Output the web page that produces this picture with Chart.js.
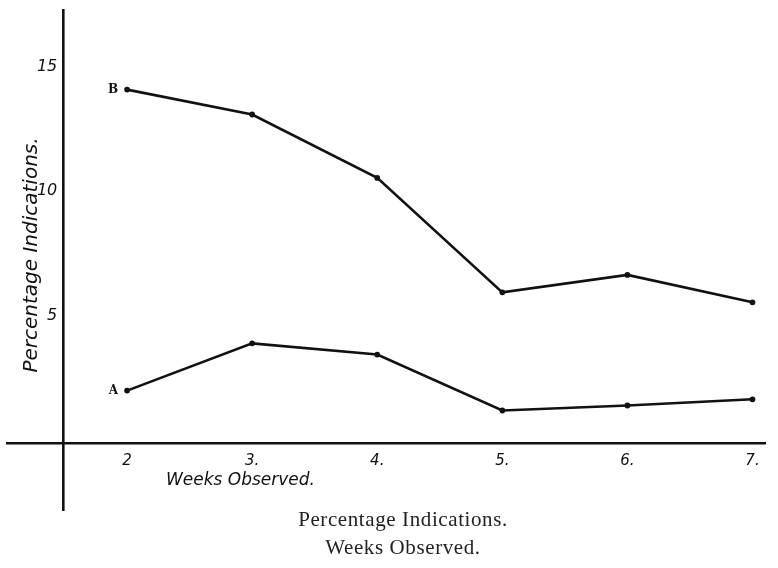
<!DOCTYPE html>
<html>
<head>
<meta charset="utf-8">
<script src="https://cdn.jsdelivr.net/npm/chart.js@4.4.0/dist/chart.umd.min.js"></script>
<style>
  html, body { margin: 0; padding: 0; background: #fff; }
  #wrap { position: relative; width: 778px; height: 568px; }
  #chart { position: absolute; left: 0; top: 0; }
  .caption { position: absolute; left: 253px; width: 300px; text-align: center;
             font-family: "Liberation Serif", serif; font-size: 21px; letter-spacing: 0.6px; color: #222; }
</style>
</head>
<body>
<div id="wrap">
  <canvas id="chart" width="778" height="568"></canvas>
  <div class="caption" style="top:507px">Percentage Indications.</div>
  <div class="caption" style="top:535px">Weeks Observed.</div>
</div>
<script>
// Dữ liệu
const weeks = [2, 3, 4, 5, 6, 7];
const weekLabels = ['2', '3.', '4.', '5.', '6.', '7.'];
const seriesB = [14.2, 13.2, 10.65, 6.05, 6.75, 5.65];
const seriesA = [2.1, 4.0, 3.55, 1.3, 1.5, 1.75];
const yTicks = [5, 10, 15];
const seriesNames = ['B', 'A'];
const yAxisAt = 1.49;   // vị trí trục tung trên thang x

const handFont = '"DejaVu Sans", sans-serif';

// Plugin vẽ chữ A/B, nhãn trục tung và tiêu đề các trục
const notesPlugin = {
    id: 'notes',
    afterDatasetsDraw(chart) {
        const ctx = chart.ctx;
        const xs = chart.scales.x, ys = chart.scales.y;
        ctx.save();
        ctx.fillStyle = '#111';
        // Nhãn A, B ở đầu mỗi đường
        ctx.font = 'bold 12px "DejaVu Serif", serif';
        ctx.textAlign = 'right';
        ctx.textBaseline = 'middle';
        chart.data.datasets.forEach((ds, i) => {
            const p = chart.getDatasetMeta(i).data[0];
            ctx.fillText(seriesNames[i], p.x - 9, p.y);
        });
        // Nhãn trục tung
        ctx.font = 'italic 16px ' + handFont;
        const axisX = xs.getPixelForValue(yAxisAt);
        yTicks.forEach(v => {
            ctx.fillText(String(v), axisX - 6, ys.getPixelForValue(v) - 3);
        });
        // Tiêu đề trục x
        ctx.font = 'italic 17px ' + handFont;
        ctx.textAlign = 'left';
        ctx.fillText('Weeks Observed.', 166, 481);
        // Tiêu đề trục y (xoay dọc)
        ctx.translate(32, 255);
        ctx.rotate(-Math.PI / 2);
        ctx.textAlign = 'center';
        ctx.font = 'italic 20px ' + handFont;
        ctx.fillText('Percentage Indications.', 0, 0);
        ctx.restore();
    }
};

const lineStyle = {
    borderColor: '#111',
    backgroundColor: '#111',
    borderWidth: 2.6,
    pointRadius: 1.6,
    pointHoverRadius: 1.6,
    tension: 0,
    fill: false
};

new Chart(document.getElementById('chart'), {
    type: 'line',
    data: {
        datasets: [
            Object.assign({ label: 'B', data: weeks.map((w, i) => ({ x: w, y: seriesB[i] })) }, lineStyle),
            Object.assign({ label: 'A', data: weeks.map((w, i) => ({ x: w, y: seriesA[i] })) }, lineStyle)
        ]
    },
    options: {
        responsive: false,
        animation: false,
        layout: { padding: { left: 7, right: 13, top: 10, bottom: 58 } },
        plugins: { legend: { display: false }, tooltip: { enabled: false } },
        scales: {
            x: {
                type: 'linear',
                min: 1.04,
                max: 7.1,
                position: { y: 0 },
                grid: { display: false, drawTicks: false },
                border: { display: true, color: '#111', width: 2.6 },
                afterBuildTicks: s => { s.ticks = weeks.map(v => ({ value: v })); },
                ticks: {
                    padding: 9,
                    color: '#111',
                    font: { family: handFont, size: 15, style: 'italic' },
                    callback: v => weekLabels[weeks.indexOf(v)]
                }
            },
            y: {
                type: 'linear',
                min: -2.7,
                max: 17.4,
                position: { x: yAxisAt },
                grid: { display: false, drawTicks: false },
                border: { display: true, color: '#111', width: 2.6 },
                afterBuildTicks: s => { s.ticks = yTicks.map(v => ({ value: v })); },
                ticks: { display: false }
            }
        }
    },
    plugins: [notesPlugin]
});
</script>
</body>
</html>
